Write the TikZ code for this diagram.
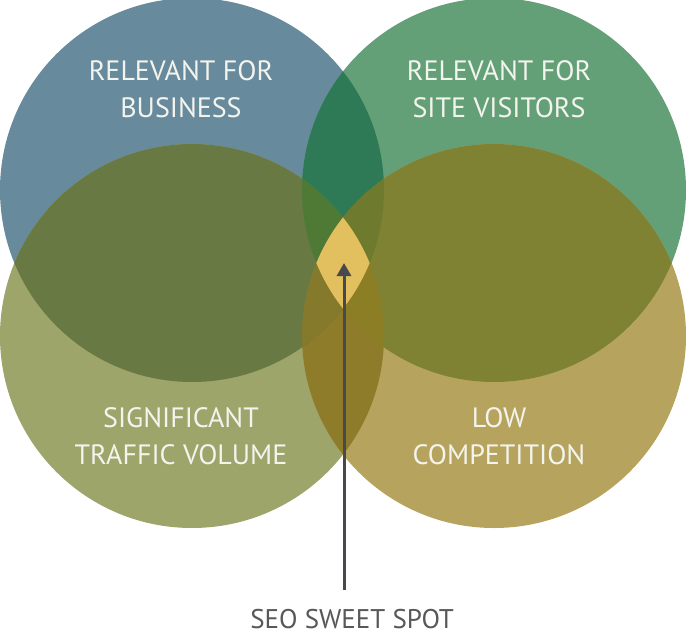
\documentclass[tikz,border=0pt]{standalone}
\usepackage{fontspec}
\setmainfont{PT Sans}
\usetikzlibrary{arrows.meta}
\definecolor{Business}{HTML}{678A9C}
\definecolor{Visitors}{HTML}{64A077}
\definecolor{Traffic}{HTML}{9DA56B}
\definecolor{Competition}{HTML}{B6A45E}
\definecolor{TopLens}{HTML}{2E7A56}
\definecolor{BottomLens}{HTML}{8E7C2A}
\definecolor{LeftLens}{HTML}{687943}
\definecolor{RightLens}{HTML}{808233}
\definecolor{TripleUL}{HTML}{4E7A35}
\definecolor{TripleUR}{HTML}{6E7A2D}
\definecolor{TripleLL}{HTML}{85792B}
\definecolor{TripleLR}{HTML}{8B7E24}
\definecolor{SweetSpot}{HTML}{E2BF5F}
\definecolor{LabelWhite}{HTML}{F4F4EE}
\definecolor{ArrowGrey}{HTML}{48484F}
\definecolor{SpotGrey}{HTML}{58585A}

\begin{document}
\begin{tikzpicture}[x=1pt, y=-1pt,
    circle label/.style={text=LabelWhite, align=center, inner sep=0pt,
        font=\fontsize{28}{37}\selectfont},
    spot label/.style={text=SpotGrey, inner sep=0pt,
        font=\fontsize{27}{30}\selectfont},
    pointer/.style={draw=ArrowGrey, line width=3pt,
        -{Triangle[width=14pt, length=13pt]}}]
    % Canvas
    \fill[white] (0,0) rectangle (688,637);
    \useasboundingbox (0,0) rectangle (688,637);

    % Circle centres
    \coordinate (tl) at (192,190);
    \coordinate (tr) at (494,190);
    \coordinate (bl) at (192,336);
    \coordinate (br) at (494,336);

    % Circles
    \fill[Business] (tl) circle[radius=192pt];
    \fill[Visitors] (tr) circle[radius=192pt];
    \fill[Traffic] (bl) circle[radius=192pt];
    \fill[Competition] (br) circle[radius=192pt];

    % Overlaps of two circles
    \foreach \a/\b/\col in {tl/tr/TopLens, bl/br/BottomLens, tl/bl/LeftLens, tr/br/RightLens} {
        \begin{scope}
            \clip (\a) circle[radius=192pt];
            \fill[\col] (\b) circle[radius=192pt];
        \end{scope}
    }

    % Overlaps of three circles
    \foreach \a/\b/\c/\col in {tl/tr/bl/TripleUL, tl/tr/br/TripleUR, tl/bl/br/TripleLL, tr/bl/br/TripleLR} {
        \begin{scope}
            \clip (\a) circle[radius=192pt];
            \clip (\b) circle[radius=192pt];
            \fill[\col] (\c) circle[radius=192pt];
        \end{scope}
    }

    % Sweet spot
    \begin{scope}
        \clip (tl) circle[radius=192pt];
        \clip (tr) circle[radius=192pt];
        \clip (bl) circle[radius=192pt];
        \fill[SweetSpot] (br) circle[radius=192pt];
    \end{scope}

    % Labels
    \node[circle label] (business) at (181,89) {RELEVANT FOR\\BUSINESS};
    \node[circle label] (visitors) at (499,89) {RELEVANT FOR\\SITE VISITORS};
    \node[circle label] (traffic) at (181,436) {SIGNIFICANT\\TRAFFIC VOLUME};
    \node[circle label] (competition) at (499,436) {LOW\\COMPETITION};

    % Pointer
    \node[spot label] (seo) at (352,619) {SEO SWEET SPOT};
    \coordinate (spot) at (344,263);
    \coordinate (tail) at (344,590);
    \draw[pointer] (tail) -- (spot);
\end{tikzpicture}
\end{document}
